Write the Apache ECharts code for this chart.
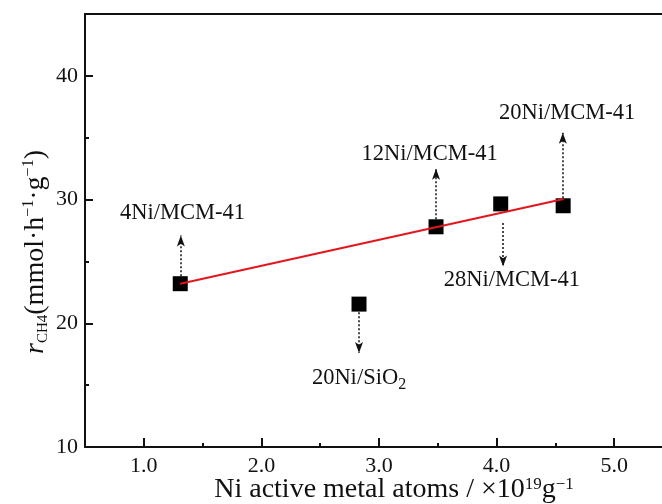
<!DOCTYPE html>
<html>
<head>
<meta charset="utf-8">
<script src="https://cdn.jsdelivr.net/npm/echarts@6/dist/echarts.min.js"></script>
<style>html,body{margin:0;padding:0;background:#fff}#c{width:662px;height:504px}</style>
</head>
<body>
<div id="c"></div>
<script>
// ---- data ----
const samples = ['4Ni/MCM-41', '20Ni/SiO2', '12Ni/MCM-41', '28Ni/MCM-41', '20Ni/MCM-41'];
const activeAtoms = [1.31, 2.83, 3.485, 4.035, 4.566];
const rateCH4 = [23.2, 21.55, 27.8, 29.65, 29.5];
const fitX = [1.31, 4.57];
const fitY = [23.2, 30.05];
// annotation positions (data units)
const labelX = [1.33, 2.83, 3.43, 4.13, 4.60];
const labelY = [28.9, 15.6, 33.7, 23.5, 37.0];
const arrowX = [1.315, 2.83, 3.485, 4.055, 4.563];
const arrowFrom = [23.8, 20.9, 28.4, 28.1, 30.1];
const arrowTo = [27.1, 17.6, 32.5, 24.6, 35.4];
// ticks
const xTicks = [1, 2, 3, 4, 5];
const xTickLabels = ['1.0', '2.0', '3.0', '4.0', '5.0'];
const xMinorTicks = [1.5, 2.5, 3.5, 4.5];
const yTicks = [10, 20, 30, 40];
const yTickLabels = ['10', '20', '30', '40'];
const yMinorTicks = [15, 25, 35];

const FONT = 'Liberation Serif';
const INK = '#111';

const chart = echarts.init(document.getElementById('c'), null, {renderer: 'canvas'});

const axisCommon = {
  axisLine: {show: true, onZero: false, lineStyle: {color: INK, width: 2}},
  splitLine: {show: false}
};

function labelFmt(p) {
  const s = samples[p.dataIndex];
  const m = s.match(/^(.*SiO)(2)$/);
  if (m) return '{a|' + m[1] + '}{s|' + m[2] + '}';
  return '{a|' + s + '}';
}

const option = {
  animation: false,
  backgroundColor: '#fff',
  grid: {left: 85, top: 14, height: 433, width: 588, containLabel: false, outerBoundsMode: 'none', show: false},
  xAxis: [
    Object.assign({
      type: 'value', min: 0.5, max: 5.5, interval: 0.5, position: 'bottom',
      axisTick: {show: true, inside: true, length: 9, customValues: xTicks, lineStyle: {color: INK, width: 2}},
      axisLabel: {show: true, customValues: xTicks, margin: 8, color: INK, fontFamily: FONT, fontSize: 22,
        formatter: v => xTickLabels[xTicks.indexOf(Math.round(v * 10) / 10)] || ''}
    }, axisCommon),
    {
      type: 'value', min: 0.5, max: 5.5, interval: 0.5, position: 'bottom',
      axisLine: {show: false}, splitLine: {show: false}, axisLabel: {show: false},
      axisTick: {show: true, inside: true, length: 4, customValues: xMinorTicks, lineStyle: {color: INK, width: 2}}
    },
    {
      type: 'value', min: 0.5, max: 5.5, interval: 0.5, position: 'top',
      axisLine: {show: true, onZero: false, lineStyle: {color: INK, width: 2}},
      splitLine: {show: false}, axisLabel: {show: false}, axisTick: {show: false}
    }
  ],
  yAxis: [
    Object.assign({
      type: 'value', min: 10, max: 45, interval: 10,
      axisTick: {show: true, inside: true, length: 8, customValues: yTicks, lineStyle: {color: INK, width: 2}},
      axisLabel: {show: true, customValues: yTicks, margin: 7, color: INK, fontFamily: FONT, fontSize: 22,
        formatter: v => yTickLabels[yTicks.indexOf(Math.round(v))] || ''}
    }, axisCommon),
    {
      type: 'value', min: 10, max: 45, interval: 10, position: 'left',
      axisLine: {show: false}, splitLine: {show: false}, axisLabel: {show: false},
      axisTick: {show: true, inside: true, length: 4, customValues: yMinorTicks, lineStyle: {color: INK, width: 2}}
    }
  ],
  series: [
    {
      type: 'scatter', name: 'samples', z: 3,
      symbol: 'rect', symbolSize: 15,
      itemStyle: {color: '#000', opacity: 1},
      data: activeAtoms.map((x, i) => [x, rateCH4[i]])
    },
    {
      type: 'line', name: 'fit', z: 4,
      showSymbol: false, symbol: 'none',
      lineStyle: {color: '#e3161e', width: 2},
      data: fitX.map((x, i) => [x, fitY[i]])
    },
    {
      type: 'scatter', name: 'labels', z: 5, silent: true,
      symbolSize: 0,
      itemStyle: {color: INK, opacity: 1},
      label: {
        show: true, position: 'inside', formatter: labelFmt, opacity: 1,
        rich: {
          a: {fontFamily: FONT, fontSize: 22.5, color: INK, lineHeight: 24},
          s: {fontFamily: FONT, fontSize: 16, color: INK, lineHeight: 24, verticalAlign: 'bottom', padding: [0, 0, -3, 0]}
        }
      },
      data: labelX.map((x, i) => [x, labelY[i]]),
      markLine: {
        silent: true, animation: false,
        symbol: ['none', 'arrow'], symbolSize: [6, 11],
        label: {show: false},
        lineStyle: {type: [2, 2], color: INK, width: 1.5, opacity: 1},
        itemStyle: {color: INK, opacity: 1},
        emphasis: {disabled: true},
        data: arrowX.map((x, i) => [{coord: [x, arrowFrom[i]]}, {coord: [x, arrowTo[i]]}])
      }
    }
  ],
  graphic: [
    {
      type: 'text', x: 394, y: 490, silent: true,
      style: {
        text: '{n|Ni active metal atoms / ×10}{sup|19}{n|g}{sup|−1}',
        align: 'center', verticalAlign: 'middle',
        rich: {
          n: {fontFamily: FONT, fontSize: 28, lineHeight: 28, fill: INK, color: INK},
          sup: {fontFamily: FONT, fontSize: 17, lineHeight: 17, verticalAlign: 'top', fill: INK, color: INK}
        }
      }
    },
    {
      type: 'text', x: 36, y: 252, rotation: Math.PI / 2, silent: true,
      style: {
        text: '{i|r}{sub|CH4}{n|(mmol·h}{sup|−1}{n|·g}{sup|−1}{n|)}',
        align: 'center', verticalAlign: 'middle',
        rich: {
          n: {fontFamily: FONT, fontSize: 28, lineHeight: 30, fill: INK, color: INK},
          i: {fontFamily: FONT, fontSize: 28, lineHeight: 30, fontStyle: 'italic', fill: INK, color: INK},
          sub: {fontFamily: FONT, fontSize: 15, lineHeight: 15, verticalAlign: 'bottom', fill: INK, color: INK},
          sup: {fontFamily: FONT, fontSize: 16, lineHeight: 16, verticalAlign: 'top', fill: INK, color: INK}
        }
      }
    }
  ]
};
chart.setOption(option);
</script>
</body>
</html>
